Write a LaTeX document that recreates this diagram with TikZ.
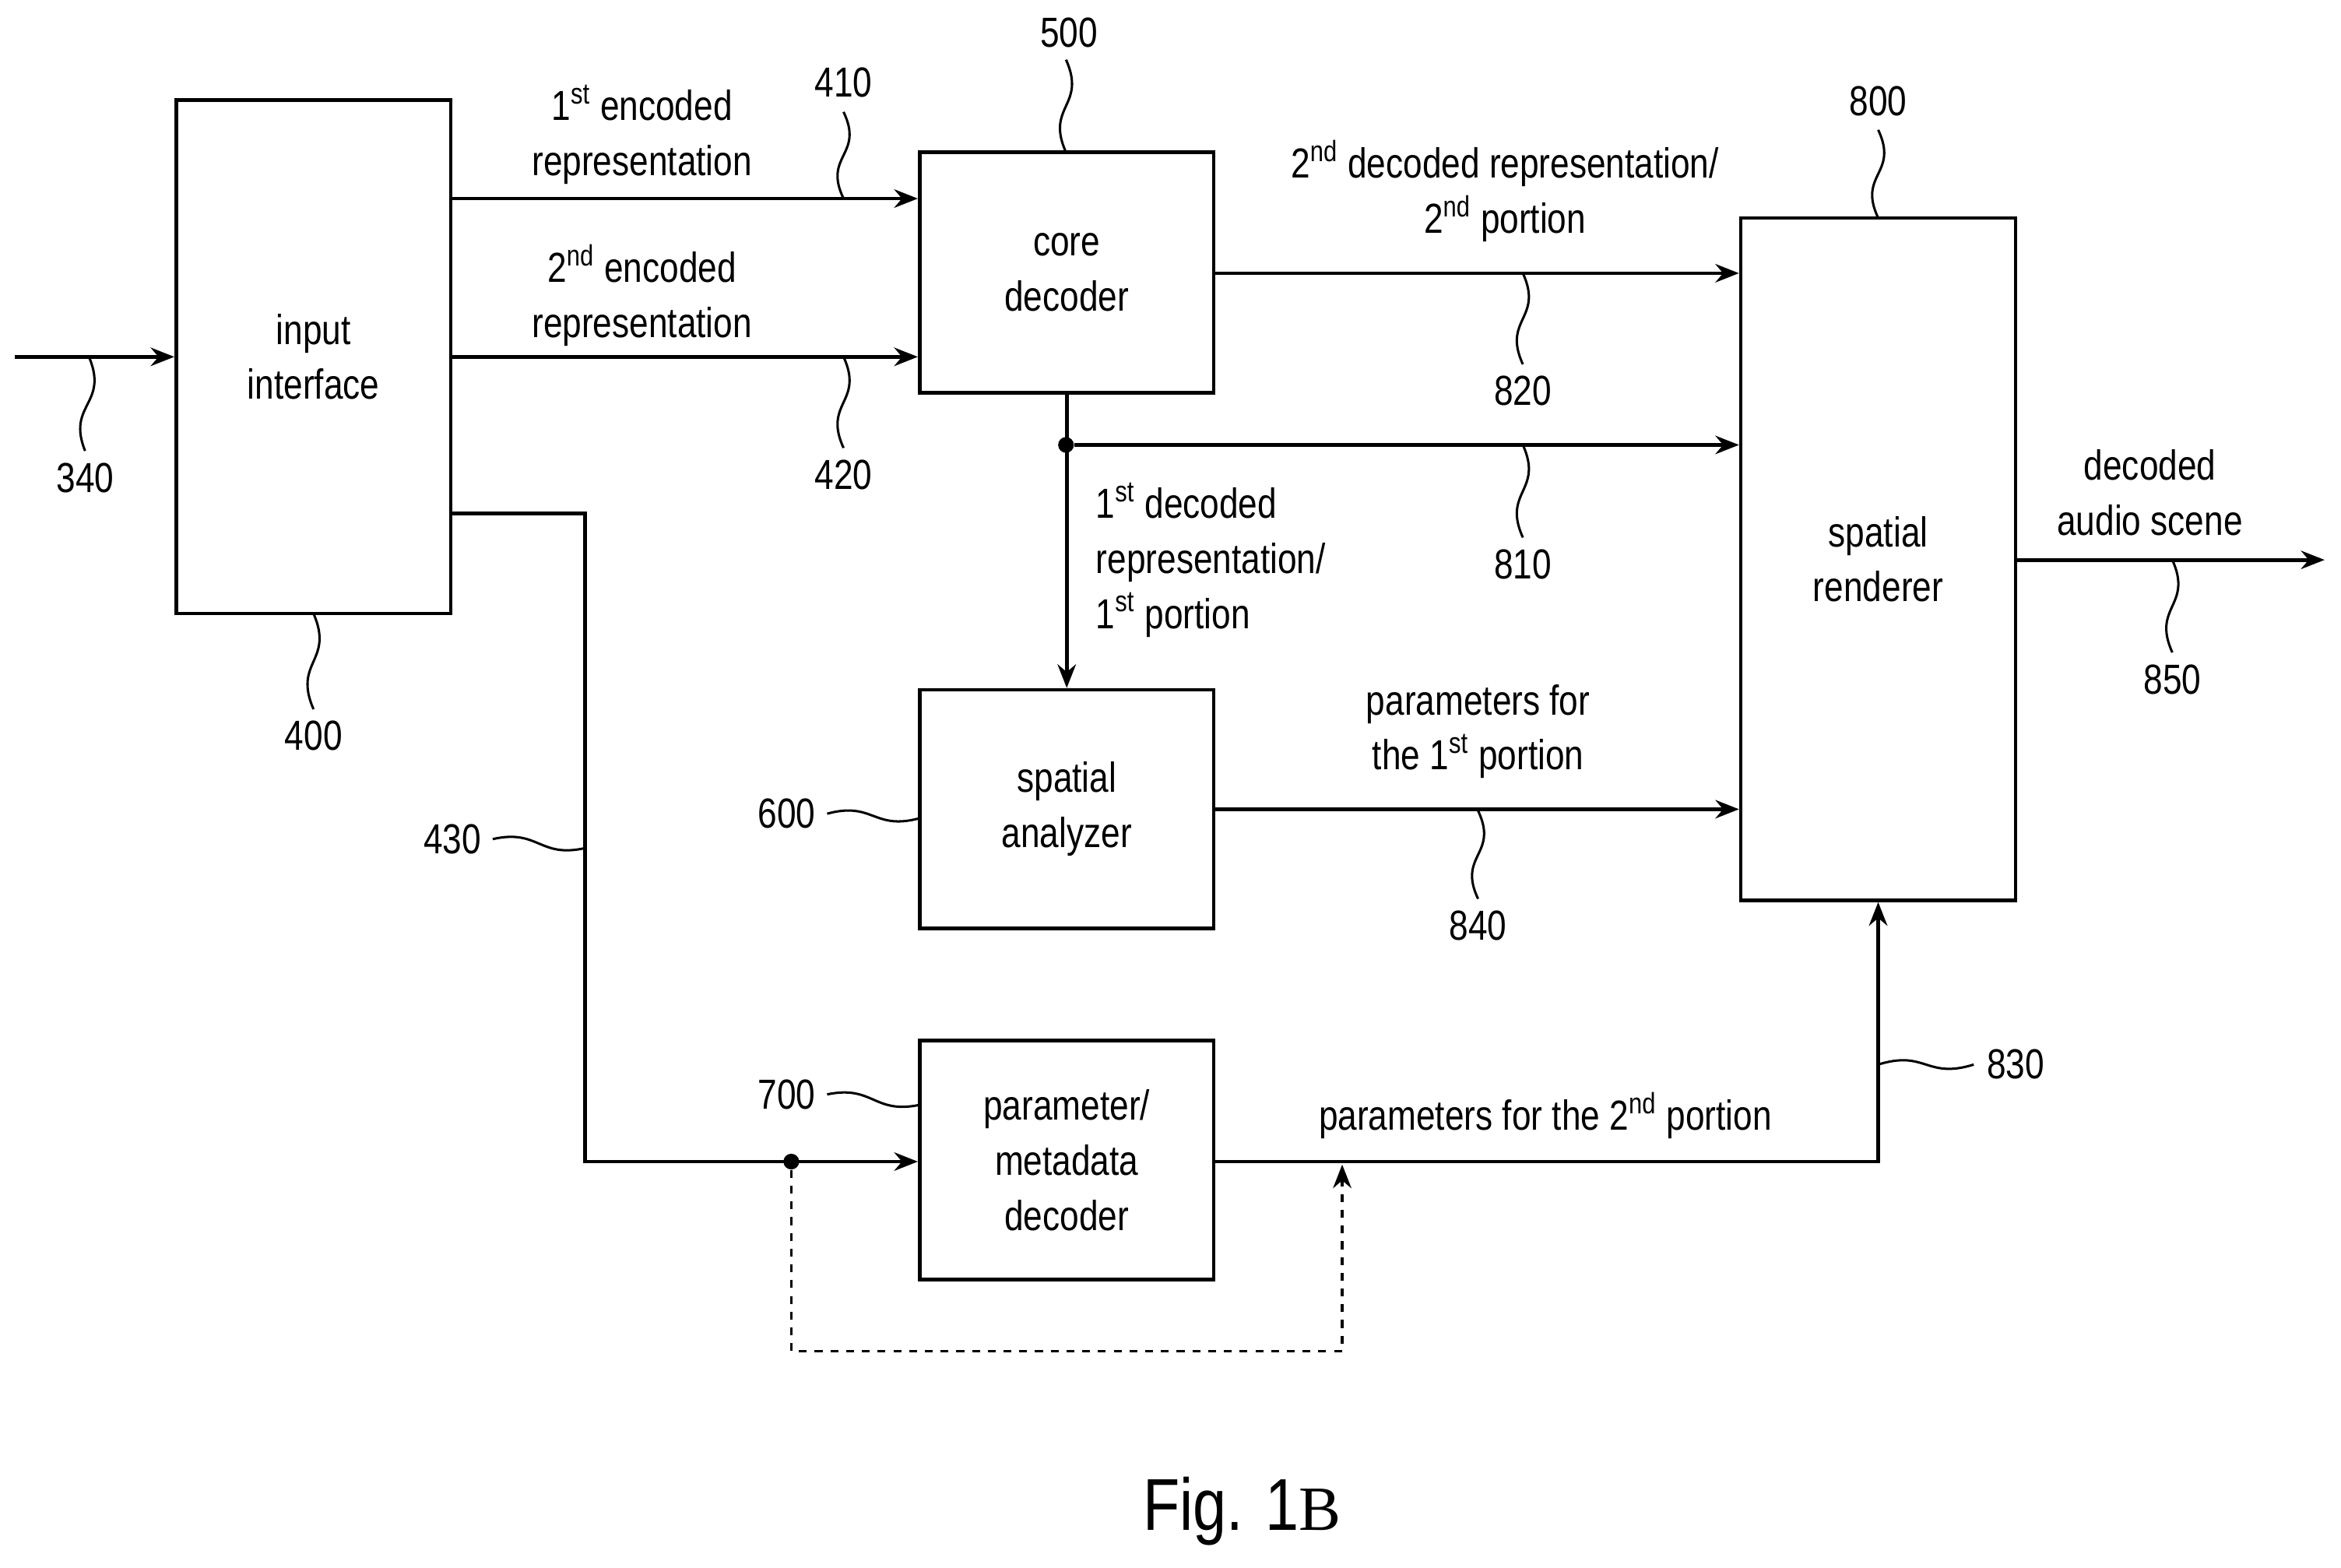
\documentclass[tikz,border=0pt]{standalone}
\usepackage{fontspec}
\setmainfont{Liberation Sans}[FakeStretch=0.82]
\newfontfamily\seriff{Liberation Serif}
\usetikzlibrary{arrows.meta,calc}
\begin{document}
\begin{tikzpicture}[x=0.02cm,y=-0.02cm,
  lw/.style={line width=1.4pt},
  box/.style={draw,lw,align=center,inner sep=0pt,font=\fontsize{16}{21}\selectfont},
  lab/.style={align=center,font=\fontsize{16}{21}\selectfont,inner sep=1pt},
  arr/.style={lw,-{Stealth[length=9pt,width=7pt]}},
  sq/.style={line width=0.9pt},
  dot/.style={circle,fill,inner sep=0pt,minimum size=6pt}]
\useasboundingbox (0,0) rectangle (1568,1050);
\newcommand\vsq[2]{\draw[sq] (#1) .. controls ($(#1)!0.5!(#2)+(14,0)$) and ($(#1)!0.5!(#2)+(-14,0)$) .. (#2);}
\newcommand\hsq[2]{\draw[sq] (#1) .. controls ($(#1)!0.5!(#2)+(0,-10)$) and ($(#1)!0.5!(#2)+(0,10)$) .. (#2);}
\node[box,minimum width=3.68cm,minimum height=6.88cm] (in) at (210,239) {input\\interface};
\node[box,minimum width=3.94cm,minimum height=3.22cm] (core) at (714.5,182.5) {core\\decoder};
\node[box,minimum width=3.94cm,minimum height=3.2cm] (sa) at (714.5,542) {spatial\\analyzer};
\node[box,minimum width=3.94cm,minimum height=3.2cm] (pm) at (714.5,777) {parameter/\\metadata\\decoder};
\node[box,minimum width=3.68cm,minimum height=9.14cm] (sr) at (1258,374.5) {spatial\\renderer};
\coordinate (src) at (10,239);
\coordinate (out) at (1557,375);
% arrows
\draw[arr] (src) -- (in.west |- src);
\draw[arr] (in.east |- 0,133) -- (core.west |- 0,133);
\draw[arr] (in.east |- 0,239) -- (core.west |- 0,239);
\coordinate (c1) at (392,344);
\coordinate (c2) at (392,778);
\coordinate (d1) at (530,778);
\draw[arr] (in.east |- c1) -- (c1) -- (c2) -- (pm.west |- c2);
\node[dot] (dd) at (d1) {};
\coordinate (e1) at (530,905);
\coordinate (e2) at (899,905);
\draw[lw,dashed,-{Stealth[length=9pt,width=7pt]},line width=1pt] (dd) -- (e1) -- (e2) -- (899,780);
\coordinate (p1) at (1258,778);
\draw[arr] (pm.east |- p1) -- (p1) -- (sr.south);
\draw[arr] (core.east |- 0,183) -- (sr.west |- 0,183);
\node[dot] (cd) at (714,298) {};
\draw[arr] (core.south) -- (sa.north);
\draw[arr] (cd) -- (sr.west |- cd);
\draw[arr] (sa.east) -- (sr.west |- sa.east);
\draw[arr] (sr.east |- out) -- (out);
% labels
\node[lab] (t1) at (430,90) {1\textsuperscript{st} encoded\\representation};
\node[lab] (t2) at (430,198) {2\textsuperscript{nd} encoded\\representation};
\node[lab] (t3) at (1008,128) {2\textsuperscript{nd} decoded representation/\\2\textsuperscript{nd} portion};
\node[lab,anchor=west,align=left] (t4) at (732,375) {1\textsuperscript{st} decoded\\representation/\\1\textsuperscript{st} portion};
\node[lab] (t5) at (990,490) {parameters for\\the 1\textsuperscript{st} portion};
\node[lab] (t6) at (1035,747) {parameters for the 2\textsuperscript{nd} portion};
\node[lab] (t7) at (1440,330) {decoded\\audio scene};
% reference numerals
\node[lab] (n340) at (57,320) {340}; \vsq{60,240}{57,302}
\node[lab] (n410) at (565,55) {410}; \vsq{565,75}{565,133}
\node[lab] (n420) at (565,318) {420}; \vsq{565,239}{565,300}
\node[lab] (n500) at (716,22) {500}; \vsq{714,40}{714,102}
\node[lab] (n800) at (1258,68) {800}; \vsq{1258,87}{1258,146}
\node[lab] (n820) at (1020,262) {820}; \vsq{1020,183}{1020,244}
\node[lab] (n810) at (1020,378) {810}; \vsq{1020,298}{1020,360}
\node[lab] (n850) at (1455,455) {850}; \vsq{1455,375}{1455,437}
\node[lab] (n840) at (990,620) {840}; \vsq{990,543}{990,602}
\node[lab] (n400) at (210,493) {400}; \vsq{210,411}{210,475}
\node[lab] (n830) at (1350,713) {830}; \hsq{1258,713}{1322,713}
\node[lab] (n700) at (527,733) {700}; \hsq{554,733}{616,740}
\node[lab] (n600) at (527,545) {600}; \hsq{554,545}{616,548}
\node[lab] (n430) at (303,562) {430}; \hsq{330,562}{392,568}
\node[font=\fontsize{28}{30}\selectfont] (fig) at (832,1012) {Fig. 1{\seriff\fontsize{24}{30}\selectfont B}};
\end{tikzpicture}
\end{document}
